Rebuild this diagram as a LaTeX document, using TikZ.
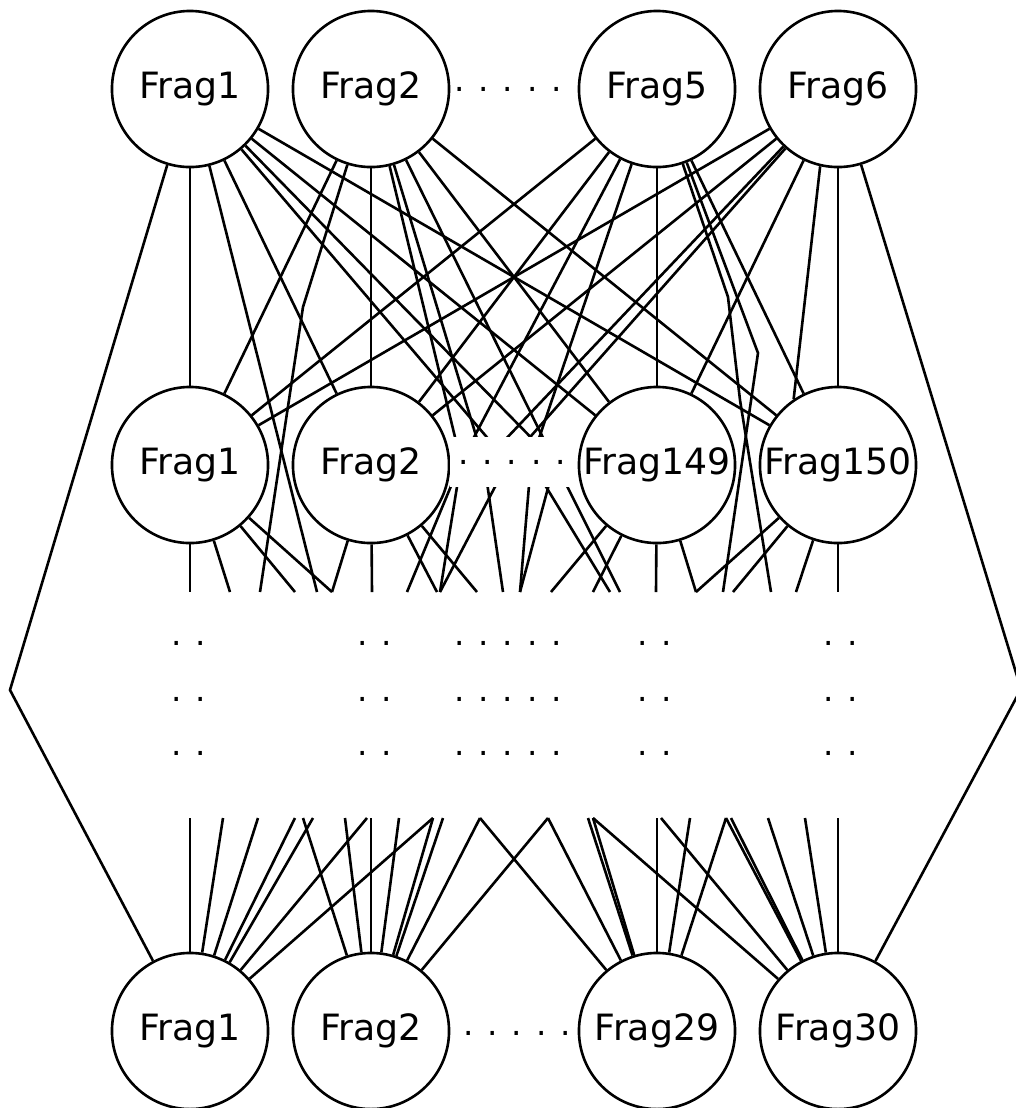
\documentclass[tikz,border=0pt]{standalone}
\usepackage{fontspec}
\setmainfont{DejaVu Sans}
\begin{document}
\begin{tikzpicture}[x=0.01cm,y=-0.01cm,
        frag/.style={draw,circle,fill=white,minimum size=1.56cm,inner sep=0pt,line width=0.026cm,font=\fontsize{10.3}{12}\selectfont},
        link/.style={line width=0.026cm},
        dotrow/.style={inner sep=0pt,font=\fontsize{9.3}{12}\selectfont}]
                \useasboundingbox (0,0) rectangle (1016,1108);
                \clip (0,0) rectangle (1016,1108);

                % Drawing top row
                \node [frag] (T1) at (190,89) {Frag1};%
                \node [frag] (T2) at (371,89) {Frag2};%
                \node [frag] (T5) at (657,89) {Frag5};%
                \node [frag] (T6) at (838,89) {Frag6};%
                \node [dotrow] (tdots) at (508,89) {. . . . .};%

                % Drawing middle row
                \node [frag] (M1) at (190,465) {Frag1};%
                \node [frag] (M2) at (371,465) {Frag2};%
                \node [frag] (M149) at (657,465) {Frag149};%
                \node [frag] (M150) at (838,465) {Frag150};%

                % Drawing bottom row
                \node [frag] (B1) at (190,1031) {Frag1};%
                \node [frag] (B2) at (371,1031) {Frag2};%
                \node [frag] (B29) at (657,1031) {Frag29};%
                \node [frag] (B30) at (838,1031) {Frag30};%
                \node [dotrow] (bdots) at (517,1033) {. . . . .};%

                % Marking side corners and bends
                \coordinate (hexL) at (10,690);%
                \coordinate (hexR) at (1021,689);%
                \coordinate (bendA) at (303,307);%
                \coordinate (bendB) at (728,297);%
                \coordinate (bendC) at (740,400);%
                \coordinate (bendD) at (758,353);%

                % Marking hidden dots in middle row
                \coordinate (d1) at (461,462);%
                \coordinate (d2) at (484,462);%
                \coordinate (d3) at (508,462);%
                \coordinate (d4) at (531,462);%
                \coordinate (d5) at (555,462);%

                % Marking upper edge of the gap
                \coordinate (p190) at (190,592);%
                \coordinate (p230) at (230,592);%
                \coordinate (p260) at (260,592);%
                \coordinate (p295) at (295,592);%
                \coordinate (p317) at (317,592);%
                \coordinate (p332) at (332,592);%
                \coordinate (p372) at (372,592);%
                \coordinate (p407) at (407,592);%
                \coordinate (p437) at (437,592);%
                \coordinate (p440) at (440,592);%
                \coordinate (p477) at (477,592);%
                \coordinate (p503) at (503,592);%
                \coordinate (p520) at (520,592);%
                \coordinate (p551) at (551,592);%
                \coordinate (p593) at (593,592);%
                \coordinate (p610) at (610,592);%
                \coordinate (p620) at (620,592);%
                \coordinate (p656) at (656,592);%
                \coordinate (p696) at (696,592);%
                \coordinate (p723) at (723,592);%
                \coordinate (p733) at (733,592);%
                \coordinate (p771) at (771,592);%
                \coordinate (p796) at (796,592);%
                \coordinate (p838) at (838,592);%

                % Marking lower edge of the gap
                \coordinate (q190) at (190,818);%
                \coordinate (q223) at (223,818);%
                \coordinate (q258) at (258,818);%
                \coordinate (q295) at (295,818);%
                \coordinate (q303) at (303,818);%
                \coordinate (q313) at (313,818);%
                \coordinate (q345) at (345,818);%
                \coordinate (q367) at (367,818);%
                \coordinate (q371) at (371,818);%
                \coordinate (q399) at (399,818);%
                \coordinate (q433) at (433,818);%
                \coordinate (q443) at (443,818);%
                \coordinate (q480) at (480,818);%
                \coordinate (q548) at (548,818);%
                \coordinate (q588) at (588,818);%
                \coordinate (q593) at (593,818);%
                \coordinate (q657) at (657,818);%
                \coordinate (q661) at (661,818);%
                \coordinate (q690) at (690,818);%
                \coordinate (q726) at (726,818);%
                \coordinate (q731) at (731,818);%
                \coordinate (q768) at (768,818);%
                \coordinate (q805) at (805,818);%
                \coordinate (q838) at (838,818);%

                % Drawing sides
                \draw [link] (T1) -- (hexL) -- (B1);%
                \draw [link] (T6) -- (hexR) -- (B30);%

                % Drawing top row to middle row
                \draw [link] (T1) -- (M1);%
                \draw [link] (T1) -- (M2);%
                \draw [link] (T1) -- (M149);%
                \draw [link] (T1) -- (M150);%
                \draw [link] (T2) -- (M1);%
                \draw [link] (T2) -- (M2);%
                \draw [link] (T2) -- (M149);%
                \draw [link] (T2) -- (M150);%
                \draw [link] (T5) -- (M1);%
                \draw [link] (T5) -- (M2);%
                \draw [link] (T5) -- (M149);%
                \draw [link] (T5) -- (M150);%
                \draw [link] (T6) -- (M1);%
                \draw [link] (T6) -- (M2);%
                \draw [link] (T6) -- (M149);%
                \draw [link] (T6) -- (M150);%
                \draw [link] (T6.257) -- (M150.124);%

                % Drawing top row to hidden dots and the gap
                \draw [link] (T1) -- (p317);%
                \draw [link] (T1) -- (d3);%
                \draw [link] (T1) -- (d5);%
                \draw [link] (T2) -- (bendA) -- (p260);%
                \draw [link] (T2) -- (d1);%
                \draw [link] (T2) -- (d2);%
                \draw [link] (T2) -- (d5);%
                \draw [link] (T5.289) -- (bendB) -- (bendC) -- (p771);%
                \draw [link] (T5.292) -- (bendD) -- (p723);%
                \draw [link] (T5) -- (d1);%
                \draw [link] (T5) -- (d4);%
                \draw [link] (T6) -- (d2);%
                \draw [link] (T6) -- (d3);%

                % Drawing hidden dots to the gap
                \draw [link] (d1) -- (p407);%
                \draw [link] (d1) -- (p440);%
                \draw [link] (d3) -- (p440);%
                \draw [link] (d2) -- (p503);%
                \draw [link] (d4) -- (p520);%
                \draw [link] (d5) -- (p520);%
                \draw [link] (d4) -- (p610);%
                \draw [link] (d5) -- (p620);%

                % Drawing middle row to the gap
                \draw [link] (M1) -- (p190);%
                \draw [link] (M1) -- (p230);%
                \draw [link] (M1) -- (p295);%
                \draw [link] (M1) -- (p332);%
                \draw [link] (M2) -- (p332);%
                \draw [link] (M2) -- (p372);%
                \draw [link] (M2) -- (p437);%
                \draw [link] (M2) -- (p477);%
                \draw [link] (M149) -- (p551);%
                \draw [link] (M149) -- (p593);%
                \draw [link] (M149) -- (p656);%
                \draw [link] (M149) -- (p696);%
                \draw [link] (M150) -- (p696);%
                \draw [link] (M150) -- (p733);%
                \draw [link] (M150) -- (p796);%
                \draw [link] (M150) -- (p838);%

                % Drawing the gap to bottom row
                \draw [link] (q190) -- (B1);%
                \draw [link] (q223) -- (B1);%
                \draw [link] (q258) -- (B1);%
                \draw [link] (q295) -- (B1);%
                \draw [link] (q313) -- (B1);%
                \draw [link] (q367) -- (B1);%
                \draw [link] (q433) -- (B1);%
                \draw [link] (q303) -- (B2);%
                \draw [link] (q345) -- (B2);%
                \draw [link] (q371) -- (B2);%
                \draw [link] (q399) -- (B2);%
                \draw [link] (q433) -- (B2);%
                \draw [link] (q443) -- (B2);%
                \draw [link] (q480) -- (B2);%
                \draw [link] (q548) -- (B2);%
                \draw [link] (q480) -- (B29);%
                \draw [link] (q548) -- (B29);%
                \draw [link] (q588) -- (B29);%
                \draw [link] (q593) -- (B29);%
                \draw [link] (q657) -- (B29);%
                \draw [link] (q690) -- (B29);%
                \draw [link] (q726) -- (B29);%
                \draw [link] (q593) -- (B30);%
                \draw [link] (q661) -- (B30);%
                \draw [link] (q726) -- (B30);%
                \draw [link] (q731) -- (B30);%
                \draw [link] (q768) -- (B30);%
                \draw [link] (q805) -- (B30);%
                \draw [link] (q838) -- (B30);%

                % Marking dots in middle row over the lines
                \node [dotrow,fill=white,minimum width=1.24cm,minimum height=0.5cm] (mdots) at (512,462) {. . . . .};%

                % Marking dots in the gap
                \node [dotrow] (g1a) at (189,643) {. .};%
                \node [dotrow] (g1b) at (189,699) {. .};%
                \node [dotrow] (g1c) at (189,753) {. .};%
                \node [dotrow] (g2a) at (375,643) {. .};%
                \node [dotrow] (g2b) at (375,699) {. .};%
                \node [dotrow] (g2c) at (375,753) {. .};%
                \node [dotrow] (g3a) at (508,643) {. . . . .};%
                \node [dotrow] (g3b) at (508,699) {. . . . .};%
                \node [dotrow] (g3c) at (508,753) {. . . . .};%
                \node [dotrow] (g4a) at (655,643) {. .};%
                \node [dotrow] (g4b) at (655,699) {. .};%
                \node [dotrow] (g4c) at (655,753) {. .};%
                \node [dotrow] (g5a) at (841,643) {. .};%
                \node [dotrow] (g5b) at (841,699) {. .};%
                \node [dotrow] (g5c) at (841,753) {. .};%
\end{tikzpicture}
\end{document}
